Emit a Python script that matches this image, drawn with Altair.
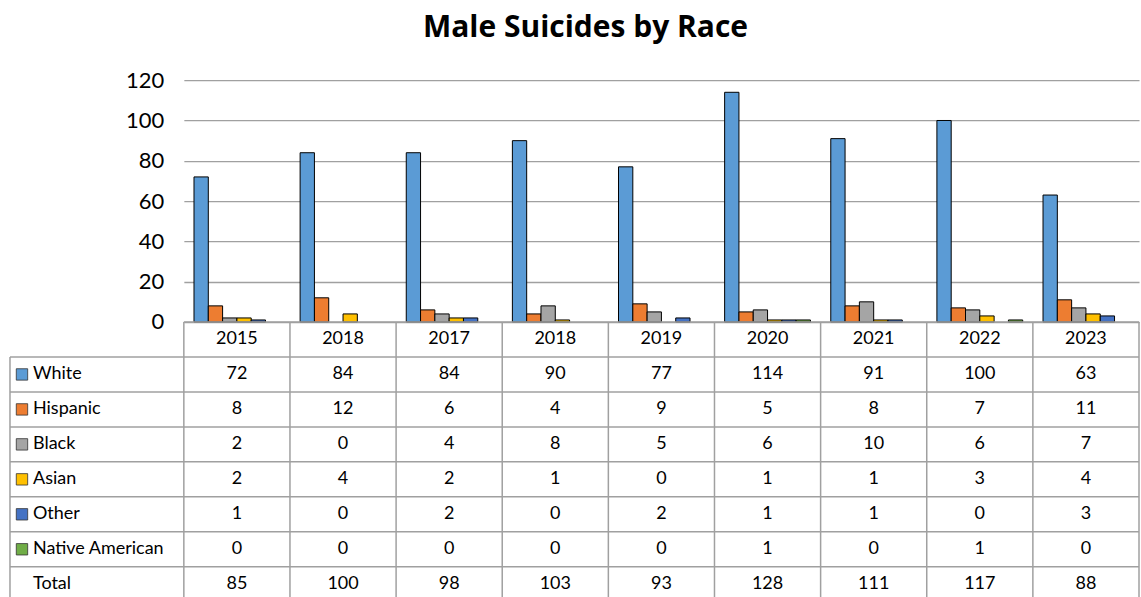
import altair as alt
import pandas as pd

# Yearly male suicide counts by race
years = ["2015", "2018", "2017", "2018", "2019", "2020", "2021", "2022", "2023"]
races = ["White", "Hispanic", "Black", "Asian", "Other", "Native American"]
white = [72, 84, 84, 90, 77, 114, 91, 100, 63]
hispanic = [8, 12, 6, 4, 9, 5, 8, 7, 11]
black = [2, 0, 4, 8, 5, 6, 10, 6, 7]
asian = [2, 4, 2, 1, 0, 1, 1, 3, 4]
other = [1, 0, 2, 0, 2, 1, 1, 0, 3]
native = [0, 0, 0, 0, 0, 1, 0, 1, 0]
totals = [85, 100, 98, 103, 93, 128, 111, 117, 88]
y_ticks = [0, 20, 40, 60, 80, 100, 120]

colors = ["#5B9BD5", "#ED7D31", "#A5A5A5", "#FFC000", "#4472C4", "#70AD47"]
FONT = "Lato"
LINE = "#A0A0A0"
W = 956
ROW_H = 35
N_ROWS = 8

series = [white, hispanic, black, asian, other, native]

bars_df = pd.DataFrame(
    [
        {"idx": i, "year": years[i], "race": r, "count": vals[i]}
        for r, vals in zip(races, series)
        for i in range(len(years))
    ]
)

color_scale = alt.Scale(domain=races, range=colors)
x_band = alt.Scale(domain=list(range(len(years))), paddingInner=0, paddingOuter=0)

bars = (
    alt.Chart(bars_df)
    .transform_filter("datum.count > 0")
    .mark_bar(stroke="black", strokeWidth=1)
    .encode(
        x=alt.X("idx:O", scale=x_band, axis=None),
        xOffset=alt.XOffset(
            "race:N",
            sort=races,
            scale=alt.Scale(domain=races, paddingInner=0, paddingOuter=0.71),
        ),
        y=alt.Y(
            "count:Q",
            scale=alt.Scale(domain=[0, 120]),
            axis=alt.Axis(
                values=y_ticks,
                title=None,
                domain=False,
                ticks=False,
                labelFont=FONT,
                labelFontSize=22,
                labelColor="#000000",
                labelPadding=20,
                gridColor=LINE,
                gridWidth=1.3,
            ),
        ),
        color=alt.Color("race:N", scale=color_scale, legend=None),
    )
    .properties(width=W, height=242)
)

# Data table underneath the bars
cells = []
for i, yr in enumerate(years):
    cells.append({"idx": i, "row": 0, "label": yr})
    for r, vals in enumerate(series, start=1):
        cells.append({"idx": i, "row": r, "label": str(vals[i])})
    cells.append({"idx": i, "row": 7, "label": str(totals[i])})
cells_df = pd.DataFrame(cells)

row_names = pd.DataFrame(
    {"row": list(range(1, 8)), "name": races + ["Total"], "race": races + [None]}
)
swatch_df = row_names.iloc[:6]

row_scale = alt.Scale(domain=list(range(N_ROWS)), paddingInner=0, paddingOuter=0)

cell_text = (
    alt.Chart(cells_df)
    .mark_text(font=FONT, fontSize=18, color="#000000", baseline="middle")
    .encode(
        x=alt.X("idx:O", scale=x_band, axis=None),
        y=alt.Y("row:O", scale=row_scale, axis=None),
        text="label:N",
    )
)

name_text = (
    alt.Chart(row_names)
    .mark_text(font=FONT, fontSize=18, color="#000000", align="left", baseline="middle")
    .encode(
        x=alt.value(-151),
        y=alt.Y("row:O", scale=row_scale, axis=None),
        text="name:N",
    )
)

swatches = (
    alt.Chart(swatch_df)
    .mark_square(size=130, stroke="#333333", strokeWidth=0.8, opacity=1)
    .encode(
        x=alt.value(-162),
        y=alt.Y("row:O", scale=row_scale, axis=None),
        fill=alt.Fill("race:N", scale=color_scale, legend=None),
    )
)

# Horizontal table lines
hlines_df = pd.DataFrame({"row": list(range(1, 8))})
hlines = (
    alt.Chart(hlines_df)
    .mark_rule(color=LINE, strokeWidth=1.5)
    .encode(
        y=alt.Y("row:O", scale=row_scale, axis=None, bandPosition=0),
        x=alt.value(-174),
        x2=alt.value(W),
    )
)
top_line = (
    alt.Chart(pd.DataFrame({"row": [0]}))
    .mark_rule(color=LINE, strokeWidth=1.5)
    .encode(
        y=alt.Y("row:O", scale=row_scale, axis=None, bandPosition=0),
        x=alt.value(0),
        x2=alt.value(W),
    )
)

# Vertical table lines
vl_df = pd.DataFrame({"idx": list(range(len(years)))})
vlines = (
    alt.Chart(vl_df)
    .mark_rule(color=LINE, strokeWidth=1.5)
    .encode(
        x=alt.X("idx:O", scale=x_band, axis=None, bandPosition=0),
        y=alt.value(0),
        y2=alt.value(ROW_H * N_ROWS),
    )
)
vline_end = (
    alt.Chart(pd.DataFrame({"idx": [len(years) - 1]}))
    .mark_rule(color=LINE, strokeWidth=1.5)
    .encode(
        x=alt.X("idx:O", scale=x_band, axis=None, bandPosition=1),
        y=alt.value(0),
        y2=alt.value(ROW_H * N_ROWS),
    )
)
left_line = (
    alt.Chart(pd.DataFrame({"row": [1]}))
    .mark_rule(color=LINE, strokeWidth=1.5)
    .encode(
        y=alt.Y("row:O", scale=row_scale, axis=None, bandPosition=0),
        y2=alt.value(ROW_H * N_ROWS),
        x=alt.value(-174),
    )
)

table = alt.layer(
    hlines, top_line, vlines, vline_end, left_line, swatches, name_text, cell_text
).properties(width=W, height=ROW_H * N_ROWS)

chart = (
    alt.vconcat(bars, table, spacing=0, bounds="flush")
    .properties(
        title=alt.TitleParams(
            "Male Suicides by Race",
            font="Open Sans",
            fontSize=30,
            fontWeight="bold",
            color="#000000",
            anchor="middle",
            offset=26,
            dx=11,
        ),
        padding={"left": 9, "top": 13, "right": 1, "bottom": 0},
    )
    .configure_view(stroke=None)
)

chart.save("out.html", embed_options={"renderer": "svg", "actions": False})
